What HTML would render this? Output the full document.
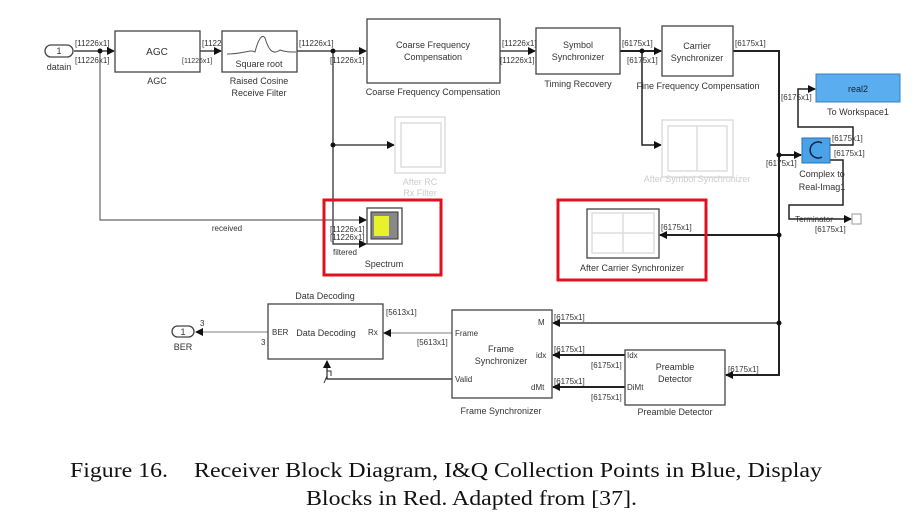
<!DOCTYPE html>
<html><head><meta charset="utf-8"><style>
body{margin:0;background:#fff;}
svg{display:block;font-family:"Liberation Sans",sans-serif;}
.cap{font-family:"Liberation Serif",serif;font-size:21px;fill:#111;}
</style></head><body>
<svg width="920" height="524" viewBox="0 0 920 524">
<defs>
<marker id="a" markerWidth="8" markerHeight="8" refX="7" refY="4" orient="auto" markerUnits="userSpaceOnUse"><path d="M0,0 L8,4 L0,8 z" fill="#111"/></marker>
</defs>
<g fill="none" stroke="#222" stroke-width="1.2">
<line x1="74" y1="51" x2="114" y2="51" marker-end="url(#a)"/>
<line x1="200" y1="51" x2="221" y2="51" marker-end="url(#a)"/>
<line x1="297" y1="51" x2="366" y2="51" marker-end="url(#a)"/>
<line x1="500" y1="51" x2="535" y2="51" marker-end="url(#a)"/>
<line x1="620" y1="51" x2="661" y2="51" marker-end="url(#a)" stroke-width="2"/>
<polyline points="733,51 779,51 779,375 726,375" marker-end="url(#a)" stroke-width="2"/>
<line x1="779" y1="155" x2="801" y2="155" marker-end="url(#a)" stroke-width="2"/>
<line x1="779" y1="235" x2="660" y2="235" marker-end="url(#a)" stroke-width="2"/>
<line x1="779" y1="323" x2="553" y2="323" marker-end="url(#a)"/>
<polyline points="642,51 642,145 661,145" marker-end="url(#a)" stroke-width="1.5"/>
<polyline points="333,51 333,145 394,145" marker-end="url(#a)"/>
<polyline points="333,145 333,244 366,244" marker-end="url(#a)"/>
<polyline points="100,51 100,220 366,220" marker-end="url(#a)" stroke="#666"/>
<polyline points="830,145 853,145 853,127 798,127 798,89 815,89" marker-end="url(#a)" stroke-width="1.5"/>
<polyline points="830,160 843,160 843,205 789,205 789,219 851,219" marker-end="url(#a)" stroke-width="1.5"/>
<line x1="452" y1="333" x2="384" y2="333" marker-end="url(#a)" stroke="#999"/>
<line x1="268" y1="332" x2="196" y2="332" marker-end="url(#a)" stroke="#999"/>
<polyline points="452,379 327,379 327,361" marker-end="url(#a)"/>
<line x1="625" y1="355" x2="553" y2="355" marker-end="url(#a)" stroke-width="2"/>
<line x1="625" y1="387" x2="553" y2="387" marker-end="url(#a)" stroke-width="2"/>
</g>
<g fill="#111">
<circle cx="100" cy="51" r="2.5"/><circle cx="333" cy="51" r="2.5"/><circle cx="333" cy="145" r="2.5"/>
<circle cx="642" cy="51" r="2.5"/><circle cx="779" cy="155" r="2.5"/><circle cx="779" cy="235" r="2.5"/><circle cx="779" cy="323" r="2.5"/>
</g>
<g fill="#fff" stroke="#444" stroke-width="1.3">
<rect x="45" y="45" width="28" height="12" rx="6"/>
<rect x="115" y="31" width="85" height="41"/>
<rect x="222" y="31" width="75" height="41"/>
<rect x="367" y="19" width="133" height="64"/>
<rect x="536" y="28" width="84" height="46"/>
<rect x="662" y="26" width="71" height="50"/>
<rect x="268" y="304" width="115" height="55"/>
<rect x="452" y="310" width="100" height="88"/>
<rect x="625" y="350" width="100" height="55"/>
<rect x="172" y="326" width="22" height="11" rx="5.5"/>
<rect x="367" y="208" width="35" height="36"/>
<rect x="587" y="209" width="72" height="49"/>
</g>
<g fill="none" stroke="#ddd" stroke-width="1.5">
<rect x="395" y="117" width="50" height="56"/><rect x="401" y="123" width="40" height="44"/>
<rect x="662" y="120" width="71" height="57"/><rect x="668" y="126" width="59" height="45"/><line x1="697" y1="126" x2="697" y2="171"/>
<rect x="592" y="213" width="62" height="40"/><line x1="623" y1="213" x2="623" y2="253"/><line x1="592" y1="233" x2="654" y2="233"/>
</g>
<rect x="371" y="212" width="27" height="27" fill="#888" stroke="#333"/>
<rect x="374" y="216" width="15" height="20" fill="#e8f22a"/>
<rect x="816" y="74" width="84" height="28" fill="#5aaef0" stroke="#3a7fc0"/>
<rect x="802" y="138" width="28" height="25" fill="#4aa3e8" stroke="#2a6fb0"/>
<path d="M822,143 a8,8 0 1,0 0,14" fill="none" stroke="#124" stroke-width="1.5"/>
<rect x="852" y="214" width="9" height="10" fill="#fff" stroke="#999"/>
<path d="M227,54 C245,54 250,49 255,52 C258,40 262,33 265,38 C268,48 272,56 280,50 C285,52 290,52 296,52" fill="none" stroke="#555"/>
<path d="M324,383 l3,-7 l0,-5 l4,0 l0,5" fill="none" stroke="#333"/>
<rect x="324" y="200" width="117" height="75" fill="none" stroke="#e0101e" stroke-width="3"/>
<rect x="558" y="200" width="148" height="80" fill="none" stroke="#e0101e" stroke-width="3"/>
<g font-size="9" fill="#333" text-anchor="middle">
<text x="59" y="54">1</text><text x="59" y="70">datain</text>
<text x="157" y="55" font-size="10">AGC</text><text x="157" y="84">AGC</text>
<text x="259" y="67">Square root</text><text x="259" y="84">Raised Cosine</text><text x="259" y="96">Receive Filter</text>
<text x="433" y="48">Coarse Frequency</text><text x="433" y="60">Compensation</text><text x="433" y="95">Coarse Frequency Compensation</text>
<text x="578" y="48">Symbol</text><text x="578" y="60">Synchronizer</text><text x="578" y="87">Timing Recovery</text>
<text x="697" y="49">Carrier</text><text x="697" y="61">Synchronizer</text><text x="698" y="89">Fine Frequency Compensation</text>
<text x="858" y="92" fill="#123">real2</text><text x="858" y="115">To Workspace1</text>
<text x="822" y="177">Complex to</text><text x="822" y="190">Real-Imag1</text>
<text x="814" y="222" font-size="8">Terminator</text>
<text x="420" y="185" fill="#ccc">After RC</text><text x="420" y="196" fill="#ccc">Rx Filter</text>
<text x="697" y="182" fill="#ccc">After Symbol Synchronizer</text>
<text x="227" y="231" font-size="8">received</text>
<text x="345" y="255" font-size="8">filtered</text>
<text x="384" y="267">Spectrum</text>
<text x="632" y="271">After Carrier Synchronizer</text>
<text x="325" y="299">Data Decoding</text><text x="326" y="336">Data Decoding</text>
<text x="183" y="335">1</text><text x="183" y="350">BER</text>
<text x="501" y="352">Frame</text><text x="501" y="364">Synchronizer</text><text x="501" y="414">Frame Synchronizer</text>
<text x="675" y="370">Preamble</text><text x="675" y="382">Detector</text><text x="675" y="415">Preamble Detector</text>
</g>
<g font-size="8" fill="#333">
<text x="75" y="46">[11226x1]</text><text x="75" y="63">[11226x1]</text>
<text x="202" y="46">[1122</text><text x="182" y="63" font-size="7">[11226x1]</text>
<text x="299" y="46">[11226x1]</text><text x="330" y="63">[11226x1]</text>
<text x="502" y="46">[11226x1]</text><text x="500" y="63">[11226x1]</text>
<text x="622" y="46">[6175x1]</text><text x="627" y="63">[6175x1]</text>
<text x="735" y="46">[6175x1]</text>
<text x="781" y="100">[6175x1]</text>
<text x="832" y="141">[6175x1]</text><text x="834" y="156">[6175x1]</text>
<text x="766" y="166">[6175x1]</text>
<text x="815" y="232">[6175x1]</text>
<text x="661" y="230">[6175x1]</text>
<text x="330" y="232">[11226x1]</text><text x="330" y="240">[11226x1]</text>
<text x="386" y="315">[5613x1]</text><text x="417" y="345">[5613x1]</text>
<text x="272" y="335">BER</text><text x="368" y="335">Rx</text><text x="261" y="345">3</text><text x="200" y="326">3</text>
<text x="455" y="336">Frame</text><text x="455" y="382">Valid</text>
<text x="538" y="325">M</text><text x="536" y="358">idx</text><text x="531" y="390">dMt</text>
<text x="554" y="320">[6175x1]</text><text x="554" y="352">[6175x1]</text><text x="554" y="384">[6175x1]</text>
<text x="591" y="368">[6175x1]</text><text x="591" y="400">[6175x1]</text>
<text x="627" y="358">Idx</text><text x="627" y="390">DiMt</text>
<text x="728" y="372">[6175x1]</text>
</g>
<text class="cap" x="70" y="477" textLength="98" lengthAdjust="spacingAndGlyphs">Figure 16.</text>
<text class="cap" x="194" y="477" textLength="628" lengthAdjust="spacingAndGlyphs">Receiver Block Diagram, I&amp;Q Collection Points in Blue, Display</text>
<text class="cap" x="306" y="505" textLength="331" lengthAdjust="spacingAndGlyphs">Blocks in Red. Adapted from [37].</text>
</svg>
</body></html>
